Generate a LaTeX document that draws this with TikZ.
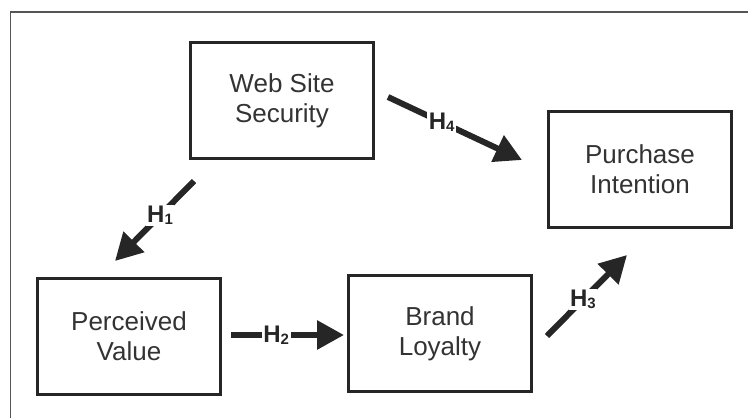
\documentclass[tikz,border=0pt]{standalone}
\usepackage{fontspec}
\setmainfont{Liberation Sans}
\usetikzlibrary{arrows.meta}
\definecolor{ink}{HTML}{262626}
\definecolor{txt}{HTML}{333333}
\definecolor{frame}{HTML}{555555}
\tikzset{
  box/.style={draw=ink, line width=3.2pt, fill=white, minimum width=183pt, minimum height=116pt,
    inner sep=0pt, align=center, text=txt, font=\fontsize{26}{30}\selectfont},
  harrow/.style={draw=ink, line width=6pt, -{Triangle[length=27pt, width=28pt]}},
  hlabel/.style={fill=white, inner sep=1.5pt, text=ink, font=\fontsize{24}{24}\selectfont\bfseries},
}
\newcommand{\hsub}[1]{H\raisebox{-2pt}{\fontsize{15}{15}\selectfont #1}}
\begin{document}
\begin{tikzpicture}[x=1pt, y=-1pt]
\useasboundingbox (0,0) rectangle (748,418);
\draw[frame, line width=1.5pt] (10.5,418) -- (10.5,12) -- (748,12);
% boxes
\node[box] (wss) at (282,100.5) {Web Site\\Security};
\node[box] (pi) at (640,169.5) {Purchase\\Intention};
\node[box] (pv) at (129,336.5) {Perceived\\Value};
\node[box] (bl) at (440,333.5) {Brand\\Loyalty};
% arrow end points
\coordinate (h4s) at (388,97);
\coordinate (h4e) at (522,160);
\coordinate (h1s) at (194,181);
\coordinate (h1e) at (115,261);
\coordinate (h2s) at (231,335);
\coordinate (h2e) at (344,335);
\coordinate (h3s) at (547,336);
\coordinate (h3e) at (627,255);
% arrows
\draw[harrow] (h4s) -- node[hlabel, pos=0.4] {\hsub{4}} (h4e);
\draw[harrow] (h1s) -- node[hlabel, pos=0.43] {\hsub{1}} (h1e);
\draw[harrow] (h2s) -- node[hlabel, pos=0.4] {\hsub{2}} (h2e);
\draw[harrow] (h3s) -- node[hlabel, pos=0.45] {\hsub{3}} (h3e);
\end{tikzpicture}
\end{document}
